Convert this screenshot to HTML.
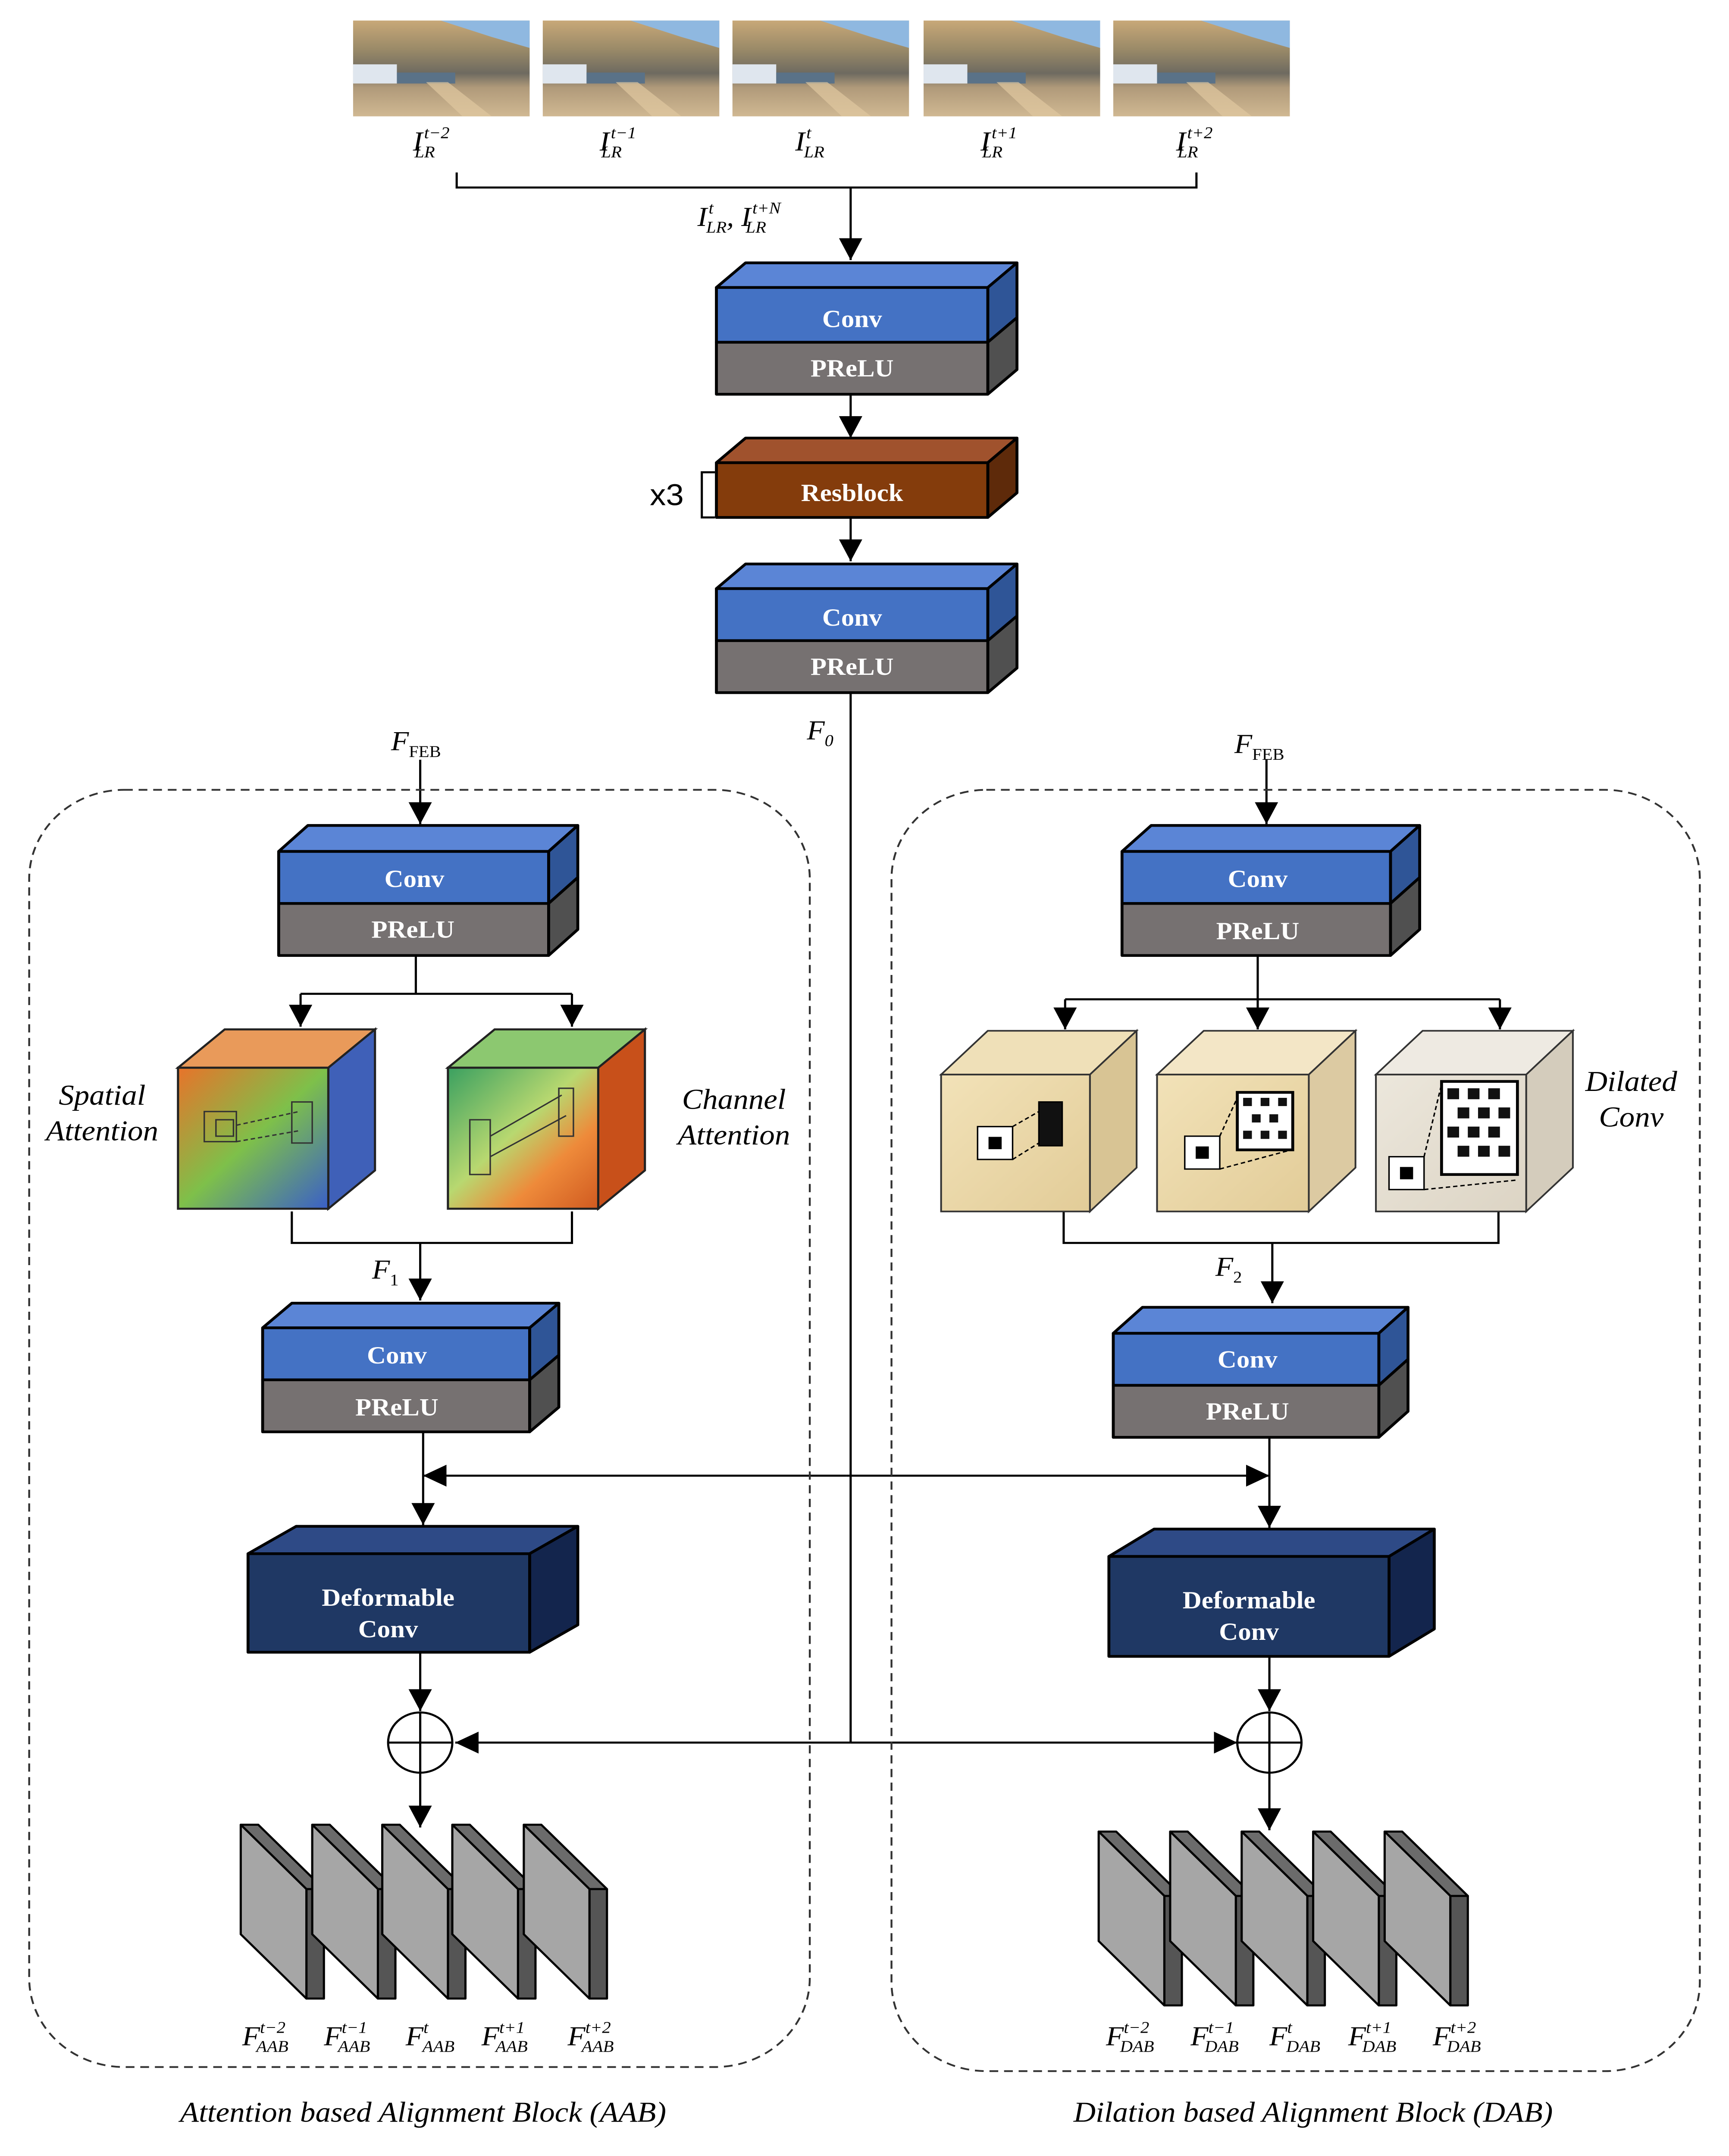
<!DOCTYPE html>
<html><head><meta charset="utf-8">
<style>
html,body{margin:0;padding:0;background:#fff;width:100%;height:100%;overflow:hidden;}
svg{display:block;position:fixed;left:0;top:0;}
.bt{font-family:"Liberation Serif",serif;font-weight:bold;fill:#fff;font-size:18px;text-anchor:middle;}
.m{font-family:"Liberation Serif",serif;font-style:italic;font-size:20px;fill:#000;}
.s{font-size:12px;}
.lab{font-family:"Liberation Serif",serif;font-style:italic;font-size:21px;fill:#000;text-anchor:middle;}
</style></head>
<body>
<svg width="100%" height="100%" viewBox="0 0 1185 1575" preserveAspectRatio="none" xmlns="http://www.w3.org/2000/svg">
<defs>
<marker id="a" viewBox="0 0 10 10" refX="10" refY="5" markerWidth="16" markerHeight="16" markerUnits="userSpaceOnUse" orient="auto">
<path d="M0,0 L10,5 L0,10 z" fill="#000"/></marker>
<linearGradient id="photo" x1="0" y1="0" x2="0" y2="1">
<stop offset="0" stop-color="#c8a878"/><stop offset="0.3" stop-color="#9a8a68"/><stop offset="0.55" stop-color="#6e6a60"/><stop offset="0.7" stop-color="#b09a7a"/><stop offset="1" stop-color="#d0b892"/></linearGradient>
<linearGradient id="sp" x1="0" y1="0" x2="1" y2="1">
<stop offset="0" stop-color="#e8732a"/><stop offset="0.5" stop-color="#7ec04a"/><stop offset="1" stop-color="#3a5fc8"/></linearGradient>
<linearGradient id="ch" x1="0" y1="0" x2="1" y2="1">
<stop offset="0" stop-color="#3aa060"/><stop offset="0.45" stop-color="#b8d870"/><stop offset="0.7" stop-color="#ee8a3a"/><stop offset="1" stop-color="#d05a20"/></linearGradient>
<linearGradient id="bg1" x1="0" y1="0" x2="1" y2="1">
<stop offset="0" stop-color="#f2e2b8"/><stop offset="1" stop-color="#e2cc98"/></linearGradient>
<linearGradient id="bg3" x1="0" y1="0" x2="1" y2="1">
<stop offset="0" stop-color="#ece7dc"/><stop offset="1" stop-color="#dcd4c4"/></linearGradient>
<g id="ph">
<rect x="0" y="0" width="121" height="70" fill="url(#photo)"/>
<polygon points="60,0 121,0 121,20 95,12" fill="#8fb8e0"/>
<rect x="0" y="32" width="30" height="14" fill="#dfe6ee"/>
<rect x="30" y="38" width="40" height="8" fill="#5a7288"/>
<polygon points="50,45 75,70 95,70 65,45" fill="#e0c8a0" opacity="0.7"/>
</g>
</defs>

<use href="#ph" x="242" y="15"/><use href="#ph" x="372" y="15"/><use href="#ph" x="502" y="15"/><use href="#ph" x="633" y="15"/><use href="#ph" x="763" y="15"/>

<g class="m">
<text x="283" y="110">I<tspan class="s" dx="1" dy="-9">t−2</tspan><tspan class="s" dx="-24" dy="14">LR</tspan></text>
<text x="411" y="110">I<tspan class="s" dx="1" dy="-9">t−1</tspan><tspan class="s" dx="-24" dy="14">LR</tspan></text>
<text x="545" y="110">I<tspan class="s" dx="1" dy="-9">t</tspan><tspan class="s" dx="-5" dy="14">LR</tspan></text>
<text x="672" y="110">I<tspan class="s" dx="1" dy="-9">t+1</tspan><tspan class="s" dx="-24" dy="14">LR</tspan></text>
<text x="806" y="110">I<tspan class="s" dx="1" dy="-9">t+2</tspan><tspan class="s" dx="-24" dy="14">LR</tspan></text>
<text x="478" y="165">I<tspan class="s" dx="1" dy="-9">t</tspan><tspan class="s" dx="-5" dy="14">LR</tspan><tspan dy="-5">, I</tspan><tspan class="s" dx="1" dy="-9">t+N</tspan><tspan class="s" dx="-24" dy="14">LR</tspan></text>
</g>

<g stroke="#000" stroke-width="1.5" fill="none">
<path d="M313,126 V137 H820 V126"/>
<path d="M583,137 V190" marker-end="url(#a)"/>
<path d="M583,288 V320" marker-end="url(#a)"/>
<path d="M583,378 V410" marker-end="url(#a)"/>
<path d="M583,506 V1273"/>
<path d="M583,1273 H312" marker-end="url(#a)"/>
<path d="M583,1273 H848" marker-end="url(#a)"/>
<path d="M490,345 H481 V378 H490"/>
<path d="M288,555 V602" marker-end="url(#a)"/>
<path d="M285,698 V726"/>
<path d="M206,726 H392"/>
<path d="M206,726 V750" marker-end="url(#a)"/>
<path d="M392,726 V750" marker-end="url(#a)"/>
<path d="M200,885 V908 H392 V885"/>
<path d="M288,908 V950" marker-end="url(#a)"/>
<path d="M290,1046 V1114" marker-end="url(#a)"/>
<path d="M580,1078 H290" marker-end="url(#a)"/>
<path d="M580,1078 H870" marker-end="url(#a)"/>
<path d="M288,1207 V1250" marker-end="url(#a)"/>
<path d="M288,1295 V1335" marker-end="url(#a)"/>
<path d="M868,555 V602" marker-end="url(#a)"/>
<path d="M862,698 V730"/>
<path d="M730,730 H1028"/>
<path d="M730,730 V752" marker-end="url(#a)"/>
<path d="M862,730 V752" marker-end="url(#a)"/>
<path d="M1028,730 V752" marker-end="url(#a)"/>
<path d="M729,885 V908 H1027 V885"/>
<path d="M872,908 V952" marker-end="url(#a)"/>
<path d="M870,1050 V1116" marker-end="url(#a)"/>
<path d="M870,1210 V1250" marker-end="url(#a)"/>
<path d="M870,1295 V1337" marker-end="url(#a)"/>
</g>

<rect x="20" y="577" width="535" height="933" rx="65" fill="none" stroke="#333" stroke-width="1.3" stroke-dasharray="6,4"/>
<rect x="611" y="577" width="554" height="936" rx="65" fill="none" stroke="#333" stroke-width="1.3" stroke-dasharray="6,4"/>

<text x="457" y="369" font-family="Liberation Sans,sans-serif" font-size="22" text-anchor="middle">x3</text>
<text class="m" x="553" y="540">F<tspan class="s" dy="5">0</tspan></text>
<text class="m" x="268" y="548">F<tspan class="s" dy="5" font-style="normal">FEB</tspan></text>
<text class="m" x="846" y="550">F<tspan class="s" dy="5" font-style="normal">FEB</tspan></text>
<text class="m" x="255" y="934">F<tspan class="s" dy="5" font-style="normal">1</tspan></text>
<text class="m" x="833" y="932">F<tspan class="s" dy="5" font-style="normal">2</tspan></text>

<g stroke="#000" stroke-width="2" stroke-linejoin="round">
<polygon points="491,210 511,192 697,192 677,210" fill="#5b85d6"/>
<polygon points="677,210 697,192 697,232 677,250" fill="#2f5597"/>
<polygon points="677,250 697,232 697,270 677,288" fill="#505050"/>
<rect x="491" y="210" width="186" height="40" fill="#4472c4"/>
<rect x="491" y="250" width="186" height="38" fill="#767171"/>
<polygon points="491,338 511,320 697,320 677,338" fill="#a0522d"/>
<polygon points="677,338 697,320 697,360 677,378" fill="#5e2a0a"/>
<rect x="491" y="338" width="186" height="40" fill="#843c0c"/>
<polygon points="491,430 511,412 697,412 677,430" fill="#5b85d6"/>
<polygon points="677,430 697,412 697,450 677,468" fill="#2f5597"/>
<polygon points="677,468 697,450 697,488 677,506" fill="#505050"/>
<rect x="491" y="430" width="186" height="38" fill="#4472c4"/>
<rect x="491" y="468" width="186" height="38" fill="#767171"/>
<polygon points="191,622 211,603 396,603 376,622" fill="#5b85d6"/>
<polygon points="376,622 396,603 396,641 376,660" fill="#2f5597"/>
<polygon points="376,660 396,641 396,679 376,698" fill="#505050"/>
<rect x="191" y="622" width="185" height="38" fill="#4472c4"/>
<rect x="191" y="660" width="185" height="38" fill="#767171"/>
<polygon points="769,622 789,603 973,603 953,622" fill="#5b85d6"/>
<polygon points="953,622 973,603 973,641 953,660" fill="#2f5597"/>
<polygon points="953,660 973,641 973,679 953,698" fill="#505050"/>
<rect x="769" y="622" width="184" height="38" fill="#4472c4"/>
<rect x="769" y="660" width="184" height="38" fill="#767171"/>
<polygon points="180,970 200,952 383,952 363,970" fill="#5b85d6"/>
<polygon points="363,970 383,952 383,990 363,1008" fill="#2f5597"/>
<polygon points="363,1008 383,990 383,1028 363,1046" fill="#505050"/>
<rect x="180" y="970" width="183" height="38" fill="#4472c4"/>
<rect x="180" y="1008" width="183" height="38" fill="#767171"/>
<polygon points="763,974 783,955 965,955 945,974" fill="#5b85d6"/>
<polygon points="945,974 965,955 965,993 945,1012" fill="#2f5597"/>
<polygon points="945,1012 965,993 965,1031 945,1050" fill="#505050"/>
<rect x="763" y="974" width="182" height="38" fill="#4472c4"/>
<rect x="763" y="1012" width="182" height="38" fill="#767171"/>
<polygon points="170,1135 203,1115 396,1115 363,1135" fill="#2e4a86"/>
<polygon points="363,1135 396,1115 396,1187 363,1207" fill="#13254d"/>
<rect x="170" y="1135" width="193" height="72" fill="#1f3864"/>
<polygon points="760,1137 791,1117 983,1117 952,1137" fill="#2e4a86"/>
<polygon points="952,1137 983,1117 983,1190 952,1210" fill="#13254d"/>
<rect x="760" y="1137" width="192" height="73" fill="#1f3864"/>
</g>
<g class="bt">
<text x="584" y="239">Conv</text><text x="584" y="275">PReLU</text>
<text x="584" y="366">Resblock</text>
<text x="584" y="457">Conv</text><text x="584" y="493">PReLU</text>
<text x="284" y="648">Conv</text><text x="283" y="685">PReLU</text>
<text x="862" y="648">Conv</text><text x="862" y="686">PReLU</text>
<text x="272" y="996">Conv</text><text x="272" y="1034">PReLU</text>
<text x="855" y="999">Conv</text><text x="855" y="1037">PReLU</text>
<text x="266" y="1173">Deformable</text><text x="266" y="1196">Conv</text>
<text x="856" y="1175">Deformable</text><text x="856" y="1198">Conv</text>
</g>

<g stroke="#222" stroke-width="1.5">
<polygon points="122,780 154,752 257,752 225,780" fill="#e99a5a"/>
<polygon points="225,780 257,752 257,855 225,883" fill="#3f60b8"/>
<rect x="122" y="780" width="103" height="103" fill="url(#sp)"/>
<polygon points="307,780 339,752 442,752 410,780" fill="#8cc870"/>
<polygon points="410,780 442,752 442,855 410,883" fill="#c8501a"/>
<rect x="307" y="780" width="103" height="103" fill="url(#ch)"/>
</g>
<g stroke="#333" stroke-width="1" fill="none">
<rect x="140" y="812" width="22" height="22"/><rect x="148" y="818" width="12" height="12"/>
<path d="M162,822 L205,812 M162,834 L205,826" stroke-dasharray="3,2"/>
<rect x="200" y="805" width="14" height="30"/>
<rect x="322" y="818" width="14" height="40"/>
<path d="M336,830 L385,800 M336,845 L388,815" />
<rect x="383" y="795" width="10" height="35"/>
</g>

<g stroke="#333" stroke-width="1.2">
<polygon points="645,785 677,753 779,753 747,785" fill="#efe0b8"/>
<polygon points="747,785 779,753 779,853 747,885" fill="#d8c494"/>
<rect x="645" y="785" width="102" height="100" fill="url(#bg1)"/>
<polygon points="793,785 825,753 929,753 897,785" fill="#f3e6c6"/>
<polygon points="897,785 929,753 929,853 897,885" fill="#dccaa2"/>
<rect x="793" y="785" width="104" height="100" fill="url(#bg1)"/>
<polygon points="943,785 975,753 1078,753 1046,785" fill="#eeeae2"/>
<polygon points="1046,785 1078,753 1078,853 1046,885" fill="#d4ccbc"/>
<rect x="943" y="785" width="103" height="100" fill="url(#bg3)"/>
</g>
<g stroke="#000" stroke-width="1" fill="none">
<rect x="670" y="823" width="24" height="24" fill="#fff"/><rect x="678" y="831" width="8" height="8" fill="#000"/>
<path d="M694,823 L712,812 M694,847 L712,835" stroke-dasharray="3,2"/>
<rect x="712" y="805" width="16" height="32" fill="#111"/>
<rect x="812" y="830" width="24" height="24" fill="#fff"/><rect x="820" y="838" width="8" height="8" fill="#000"/>
<path d="M836,830 L848,802 M836,854 L885,840" stroke-dasharray="3,2"/>
<rect x="848" y="798" width="38" height="42" fill="#fff" stroke-width="2"/>
<rect x="952" y="845" width="24" height="24" fill="#fff"/><rect x="960" y="853" width="8" height="8" fill="#000"/>
<path d="M976,845 L988,792 M976,869 L1040,862" stroke-dasharray="3,2"/>
<rect x="988" y="790" width="52" height="68" fill="#fff" stroke-width="2"/>
</g>
<g fill="#111">
<rect x="852" y="802" width="6" height="6"/><rect x="864" y="802" width="6" height="6"/><rect x="876" y="802" width="6" height="6"/>
<rect x="858" y="814" width="6" height="6"/><rect x="870" y="814" width="6" height="6"/><rect x="852" y="826" width="6" height="6"/>
<rect x="864" y="826" width="6" height="6"/><rect x="876" y="826" width="6" height="6"/>
<rect x="992" y="795" width="8" height="8"/><rect x="1006" y="795" width="8" height="8"/><rect x="1020" y="795" width="8" height="8"/>
<rect x="999" y="809" width="8" height="8"/><rect x="1013" y="809" width="8" height="8"/><rect x="1027" y="809" width="8" height="8"/>
<rect x="992" y="823" width="8" height="8"/><rect x="1006" y="823" width="8" height="8"/><rect x="1020" y="823" width="8" height="8"/>
<rect x="999" y="837" width="8" height="8"/><rect x="1013" y="837" width="8" height="8"/><rect x="1027" y="837" width="8" height="8"/>
</g>

<text class="lab" x="70" y="807">Spatial</text><text class="lab" x="70" y="833">Attention</text>
<text class="lab" x="503" y="810">Channel</text><text class="lab" x="503" y="836">Attention</text>
<text class="lab" x="1118" y="797">Dilated</text><text class="lab" x="1118" y="823">Conv</text>

<g stroke="#000" stroke-width="1.5" fill="#fff">
<circle cx="288" cy="1273" r="22"/><path d="M266,1273 H310 M288,1251 V1295"/>
<circle cx="870" cy="1273" r="22"/><path d="M848,1273 H892 M870,1251 V1295"/>
</g>

<g stroke="#000" stroke-width="1.5" stroke-linejoin="round">
<g id="pl">
<polygon points="165,1333 177,1333 222,1380 210,1380" fill="#6b6b6b"/>
<polygon points="210,1380 222,1380 222,1460 210,1460" fill="#555"/>
<polygon points="165,1333 210,1380 210,1460 165,1413" fill="#a6a6a6"/>
</g>
<use href="#pl" x="49"/><use href="#pl" x="97"/><use href="#pl" x="145"/><use href="#pl" x="194"/>
<use href="#pl" x="588" y="5"/><use href="#pl" x="637" y="5"/><use href="#pl" x="686" y="5"/><use href="#pl" x="735" y="5"/><use href="#pl" x="784" y="5"/>
</g>
<g class="m" font-size="19">
<text x="166" y="1494">F<tspan class="s" dy="-9">t−2</tspan><tspan class="s" dx="-20" dy="14">AAB</tspan></text>
<text x="222" y="1494">F<tspan class="s" dy="-9">t−1</tspan><tspan class="s" dx="-20" dy="14">AAB</tspan></text>
<text x="278" y="1494">F<tspan class="s" dy="-9">t</tspan><tspan class="s" dx="-4" dy="14">AAB</tspan></text>
<text x="330" y="1494">F<tspan class="s" dy="-9">t+1</tspan><tspan class="s" dx="-20" dy="14">AAB</tspan></text>
<text x="389" y="1494">F<tspan class="s" dy="-9">t+2</tspan><tspan class="s" dx="-20" dy="14">AAB</tspan></text>
<text x="758" y="1494">F<tspan class="s" dy="-9">t−2</tspan><tspan class="s" dx="-20" dy="14">DAB</tspan></text>
<text x="816" y="1494">F<tspan class="s" dy="-9">t−1</tspan><tspan class="s" dx="-20" dy="14">DAB</tspan></text>
<text x="870" y="1494">F<tspan class="s" dy="-9">t</tspan><tspan class="s" dx="-4" dy="14">DAB</tspan></text>
<text x="924" y="1494">F<tspan class="s" dy="-9">t+1</tspan><tspan class="s" dx="-20" dy="14">DAB</tspan></text>
<text x="982" y="1494">F<tspan class="s" dy="-9">t+2</tspan><tspan class="s" dx="-20" dy="14">DAB</tspan></text>
</g>

<text class="lab" x="290" y="1550" font-size="20">Attention based Alignment Block (AAB)</text>
<text class="lab" x="900" y="1550" font-size="20">Dilation based Alignment Block (DAB)</text>
</svg>
</body></html>
